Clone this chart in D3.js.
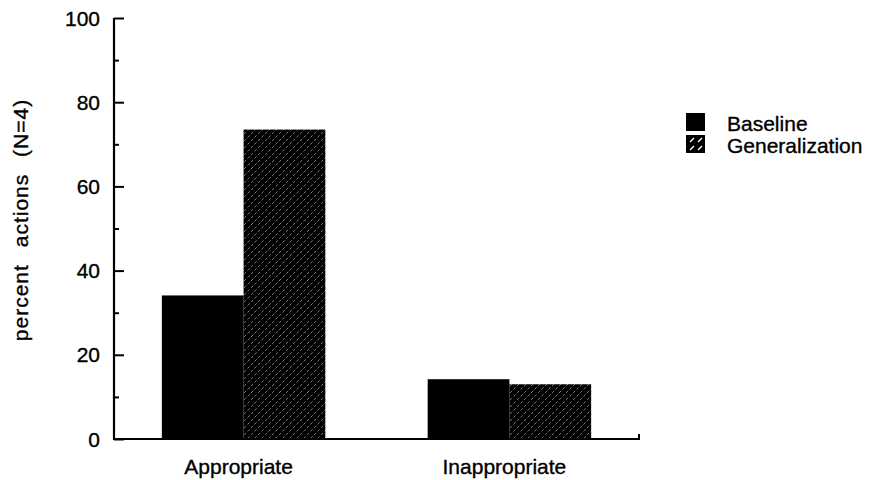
<!DOCTYPE html>
<html><head><meta charset="utf-8">
<script src="https://cdn.jsdelivr.net/npm/d3@7"></script>
<style>body{margin:0;background:#fff}</style>
</head><body>
<svg id="c" width="872" height="480"></svg>
<script>
const categories = ["Appropriate", "Inappropriate"];
const seriesNames = ["Baseline", "Generalization"];
const baselineValues = [34.1, 14.2];
const generalizationValues = [73.5, 13.0];
const majorTicks = [0, 20, 40, 60, 80, 100];
const minorTicks = [10, 30, 50, 70, 90];

const svg = d3.select("#c");
const font = "Helvetica, 'Liberation Sans', Arial, sans-serif";
const x0 = 114, x1 = 639, yTop = 18, yBot = 439;

const defs = svg.append("defs");
const pat = defs.append("pattern").attr("id","hatch").attr("patternUnits","userSpaceOnUse")
  .attr("width",7).attr("height",7);
pat.append("rect").attr("width",7).attr("height",7).attr("fill","#000");
pat.append("path").attr("d","M-1,8 L8,-1 M-2,2 L2,-2 M5,9 L9,5")
  .attr("stroke","#fff").attr("stroke-width",0.8).attr("stroke-opacity",0.6)
  .attr("stroke-dasharray","3,2");
const pat2 = defs.append("pattern").attr("id","hatchL").attr("patternUnits","userSpaceOnUse")
  .attr("width",8).attr("height",8);
pat2.append("rect").attr("width",8).attr("height",8).attr("fill","#000");
pat2.append("path").attr("d","M2,6 L6,2").attr("stroke","#fff").attr("stroke-width",1.2);

const y = d3.scaleLinear().domain([0,100]).range([yBot,yTop]);
const xb = d3.scaleBand().domain(categories).range([x0,x1]).paddingInner(0.385).paddingOuter(0.18);
const xs = d3.scaleBand().domain(seriesNames).range([0,xb.bandwidth()]);

const data = categories.map((c,i)=>({cat:c, vals:[baselineValues[i], generalizationValues[i]]}));
const fills = ["#000","url(#hatch)"];

const g = svg.append("g");
data.forEach(d=>{
  d.vals.forEach((v,j)=>{
    g.append("rect")
      .attr("x", xb(d.cat)+xs(seriesNames[j]))
      .attr("width", xs.bandwidth())
      .attr("y", y(v))
      .attr("height", y(0)-y(v))
      .attr("fill", fills[j]);
  });
});

// Y axis
const yAxis = d3.axisRight(y).tickValues(majorTicks).tickSize(10).tickFormat("");
const ya = svg.append("g").attr("transform",`translate(${x0},0)`).call(yAxis);
ya.select(".domain").remove();
ya.selectAll("line").attr("stroke","#000").attr("stroke-width",2);
const yMinor = d3.axisRight(y).tickValues(minorTicks).tickSize(5).tickFormat("");
const ym = svg.append("g").attr("transform",`translate(${x0},0)`).call(yMinor);
ym.select(".domain").remove();
ym.selectAll("line").attr("stroke","#000").attr("stroke-width",2);
svg.append("line").attr("x1",x0).attr("x2",x0).attr("y1",y(100)).attr("y2",yBot+1)
  .attr("stroke","#000").attr("stroke-width",2.2);

const txt = sel => sel.attr("font-family",font).attr("fill","#000")
  .attr("stroke","#000").attr("stroke-width",0.35);

svg.append("g").selectAll("text").data(majorTicks).join("text")
  .attr("x",100).attr("y",d=>y(d)).attr("dy","0.36em").attr("text-anchor","end")
  .attr("font-size",21).call(txt).text(d=>d);

// X axis
svg.append("line").attr("x1",x0).attr("x2",x1).attr("y1",yBot).attr("y2",yBot)
  .attr("stroke","#000").attr("stroke-width",2.2);
svg.append("line").attr("x1",x1).attr("x2",x1).attr("y1",yBot+1).attr("y2",yBot-5)
  .attr("stroke","#000").attr("stroke-width",2);

svg.append("g").selectAll("text").data(categories).join("text")
  .attr("x",d=>xb(d)+xb.bandwidth()/2-5).attr("y",474).attr("text-anchor","middle")
  .attr("font-size",21).call(txt).text(d=>d);

// Y label
svg.append("text").attr("transform",`translate(28,220) rotate(-90)`)
  .attr("text-anchor","middle").attr("font-size",21).attr("word-spacing",10)
  .attr("letter-spacing",1)
  .call(txt).text("percent actions (N=4)");

// Legend
const leg = svg.append("g");
seriesNames.forEach((s,i)=>{
  leg.append("rect").attr("x",686).attr("y",113+i*22).attr("width",19).attr("height",18)
    .attr("fill", i===0 ? "#000" : "url(#hatchL)");
  leg.append("text").attr("x",727).attr("y",131+i*22)
    .attr("font-size",21).call(txt).text(s);
});
</script>
</body></html>
